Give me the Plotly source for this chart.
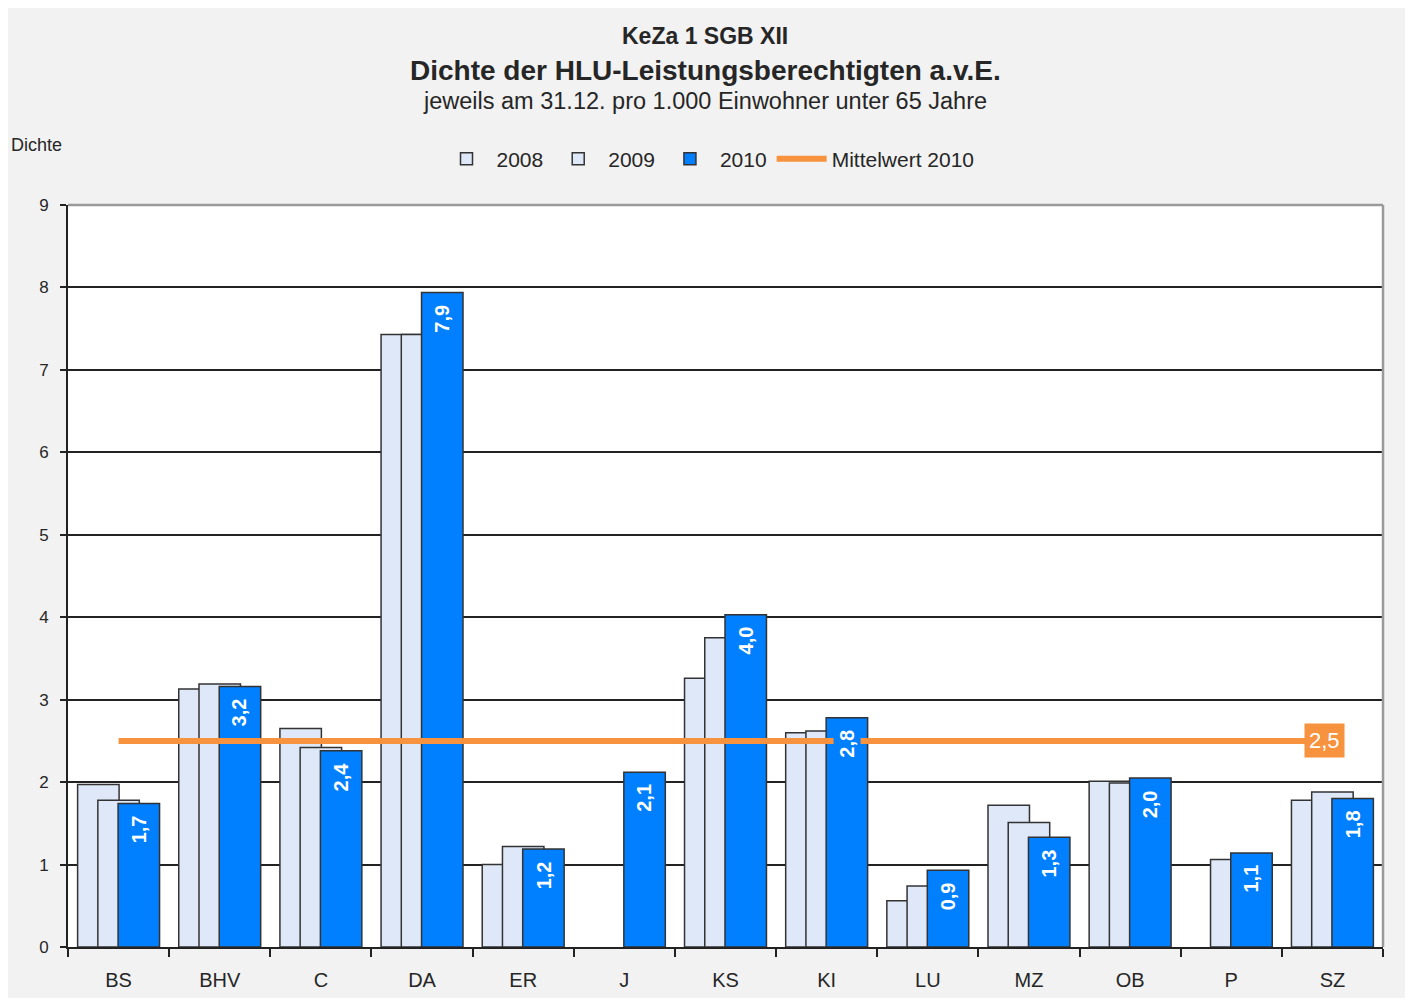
import plotly.graph_objects as go

categories = ["BS", "BHV", "C", "DA", "ER", "J", "KS", "KI", "LU", "MZ", "OB", "P", "SZ"]
v2008 = [1.97, 3.13, 2.65, 7.43, 1.00, None, 3.26, 2.60, 0.56, 1.72, 2.01, None, 1.78]
v2009 = [1.78, 3.19, 2.42, 7.43, 1.22, None, 3.75, 2.62, 0.74, 1.51, 1.99, 1.06, 1.88]
v2010 = [1.74, 3.16, 2.38, 7.94, 1.19, 2.12, 4.03, 2.78, 0.93, 1.33, 2.05, 1.14, 1.80]
mean2010 = 2.5
y_ticks = [0, 1, 2, 3, 4, 5, 6, 7, 8, 9]

def de(v):
    return ("%.1f" % v).replace(".", ",")

FONT = "Liberation Sans, Arial, sans-serif"
light = "#DEE8F9"
blue = "#007FFF"
orange = "#F7923F"
edge = "#333333"
txtc = "#262626"

W_FIG, H_FIG = 1397, 990
PL, PR, PT, PB = 60, 1375, 197, 939  # plot area in figure pixels
plot_w, plot_h = PR - PL, PB - PT

def px2paper(x, y):
    return (x - PL) / plot_w, (PB - y) / plot_h

fig = go.Figure()
W = 0.41
fig.add_trace(go.Bar(x=categories, y=v2008, name="2008", width=W, offset=-0.405,
                     marker=dict(color=light, line=dict(color=edge, width=1.5))))
fig.add_trace(go.Bar(x=categories, y=v2009, name="2009", width=W, offset=-0.205,
                     marker=dict(color=light, line=dict(color=edge, width=1.5))))
fig.add_trace(go.Bar(x=categories, y=v2010, name="2010", width=W, offset=-0.005,
                     marker=dict(color=blue, line=dict(color=edge, width=1.5))))
fig.add_trace(go.Scatter(x=categories, y=[mean2010] * len(categories), name="Mittelwert 2010",
                         mode="lines", line=dict(color=orange, width=6)))

# 2010 value labels (rotated, inside top of bar, blue background)
cat_px = plot_w / len(categories)
for c, v in zip(categories, v2010):
    fig.add_annotation(x=c, y=v, text="<b>" + de(v) + "</b>", showarrow=False,
                       textangle=-90, xanchor="center", yanchor="top",
                       xshift=0.2 * cat_px, yshift=-9, bgcolor=blue, borderpad=2,
                       font=dict(family=FONT, size=20, color="white"))

fig.add_annotation(x=categories[-1], y=mean2010, text=de(mean2010), showarrow=False,
                   bgcolor=orange, font=dict(family=FONT, size=22, color="white"),
                   borderpad=4, xshift=-8)

titles = [
    ("<b>KeZa 1 SGB XII</b>", 23, 28),
    ("<b>Dichte der HLU-Leistungsberechtigten a.v.E.</b>", 28, 62),
    ("jeweils am 31.12. pro 1.000 Einwohner unter 65 Jahre", 23.5, 93),
]
for txt, sz, ypix in titles:
    xp, yp = px2paper(697, ypix)
    fig.add_annotation(x=xp, y=yp, xref="paper", yref="paper", text=txt, showarrow=False,
                       xanchor="center", yanchor="middle",
                       font=dict(family=FONT, size=sz, color=txtc))

xp, yp = px2paper(1, 137)
fig.add_annotation(x=xp, y=yp, xref="paper", yref="paper", text="Dichte", showarrow=False,
                   xanchor="left", yanchor="middle", font=dict(family=FONT, size=18, color=txtc))

# grey top/right frame
fig.add_shape(type="line", xref="paper", yref="paper", x0=0, x1=1, y0=1, y1=1,
              line=dict(color="#9A9A9A", width=2.5), layer="above")
fig.add_shape(type="line", xref="paper", yref="paper", x0=1, x1=1, y0=0, y1=1,
              line=dict(color="#9A9A9A", width=2.5), layer="above")

lx, ly = px2paper(700, 151)
fig.update_layout(
    width=W_FIG, height=H_FIG,
    paper_bgcolor="#F2F2F2", plot_bgcolor="white",
    margin=dict(l=PL, r=W_FIG - PR, t=PT, b=H_FIG - PB, pad=0, autoexpand=False),
    barmode="overlay",
    showlegend=True,
    legend=dict(orientation="h", x=lx, xanchor="center", y=ly, yanchor="middle",
                font=dict(family=FONT, size=21, color=txtc), bgcolor="rgba(0,0,0,0)",
                itemwidth=50),
    font=dict(family=FONT, color=txtc),
)
fig.update_xaxes(type="category", categoryorder="array", categoryarray=categories,
                 showline=True, linecolor="#222", linewidth=2, mirror=False, automargin=False,
                 ticks="outside", tickson="boundaries", ticklen=8, tickcolor="#222", tickwidth=1.5,
                 ticklabelstandoff=14,
                 tickfont=dict(family=FONT, size=20, color=txtc), showgrid=False)
fig.update_yaxes(range=[0, 9], tickvals=y_ticks, showline=True, linecolor="#222", linewidth=2,
                 mirror=False, automargin=False, ticks="outside", ticklen=6, tickcolor="#222",
                 tickwidth=1.5, ticklabelstandoff=8,
                 showgrid=True, gridcolor="#222", gridwidth=1.5,
                 tickfont=dict(family=FONT, size=17, color=txtc), zeroline=False)

fig.write_html("out.html")
